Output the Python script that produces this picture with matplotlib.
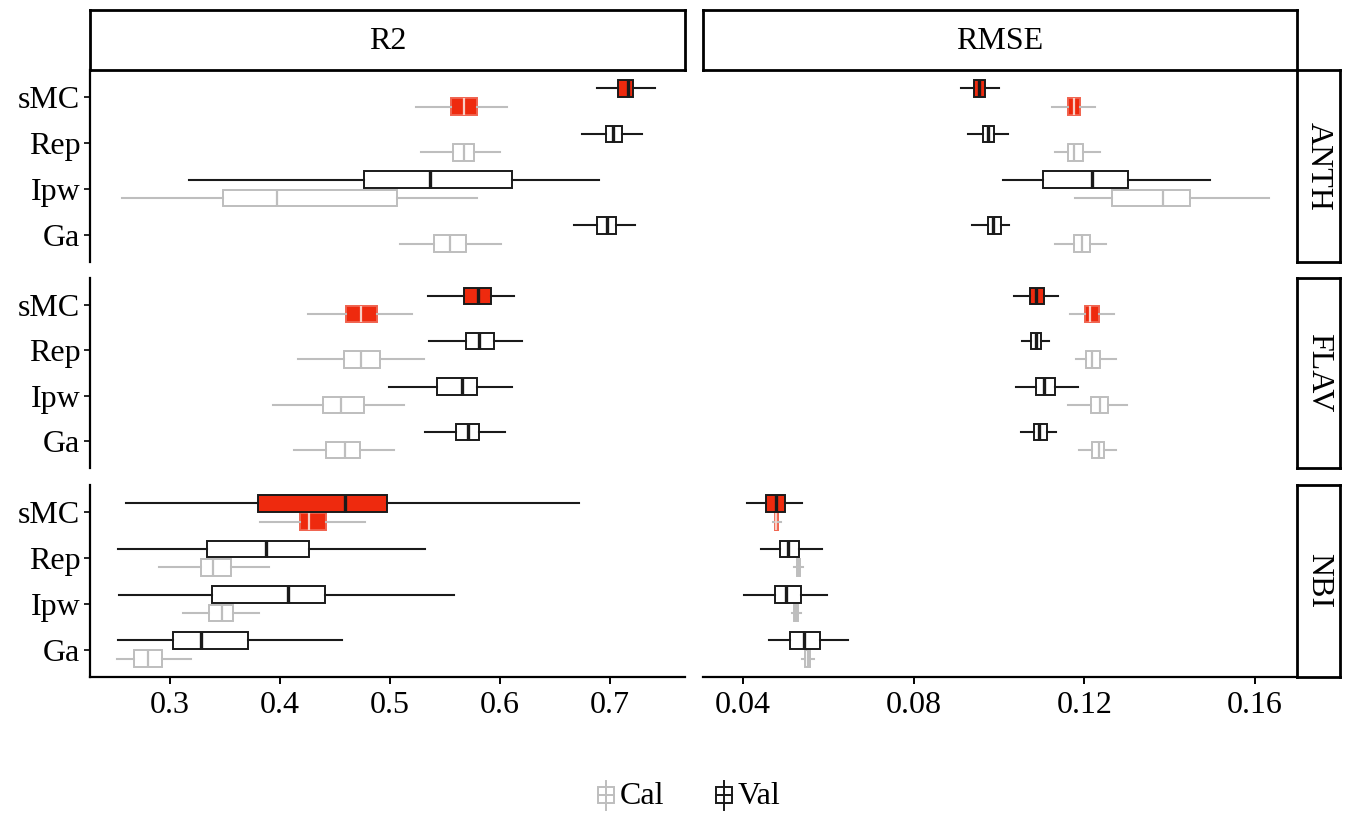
import numpy as np
import matplotlib.pyplot as plt
from matplotlib.patches import Rectangle

plt.rcParams['font.family'] = ['Liberation Serif', 'DejaVu Serif']

methods = ['sMC', 'Rep', 'Ipw', 'Ga']
traits = ['ANTH', 'FLAV', 'NBI']
metrics = ['R2', 'RMSE']

# box stats per method (sMC, Rep, Ipw, Ga): [whislo, q1, median, q3, whishi]
anth_r2_val = [[0.688, 0.707, 0.716, 0.721, 0.741],
               [0.674, 0.696, 0.703, 0.711, 0.729],
               [0.317, 0.476, 0.536, 0.611, 0.690],
               [0.667, 0.688, 0.697, 0.705, 0.723]]
anth_r2_cal = [[0.524, 0.555, 0.567, 0.579, 0.606],
               [0.528, 0.557, 0.567, 0.576, 0.600],
               [0.256, 0.348, 0.397, 0.506, 0.579],
               [0.509, 0.540, 0.554, 0.569, 0.601]]
flav_r2_val = [[0.534, 0.567, 0.580, 0.592, 0.613],
               [0.535, 0.569, 0.581, 0.594, 0.620],
               [0.499, 0.543, 0.565, 0.579, 0.611],
               [0.532, 0.560, 0.571, 0.581, 0.604]]
flav_r2_cal = [[0.425, 0.460, 0.474, 0.488, 0.520],
               [0.416, 0.458, 0.474, 0.491, 0.531],
               [0.394, 0.439, 0.455, 0.476, 0.513],
               [0.413, 0.442, 0.459, 0.473, 0.504]]
nbi_r2_val = [[0.260, 0.380, 0.459, 0.497, 0.672],
              [0.253, 0.334, 0.387, 0.426, 0.532],
              [0.254, 0.338, 0.407, 0.441, 0.558],
              [0.253, 0.303, 0.328, 0.371, 0.456]]
nbi_r2_cal = [[0.382, 0.418, 0.426, 0.442, 0.477],
              [0.290, 0.328, 0.339, 0.355, 0.390],
              [0.312, 0.335, 0.347, 0.357, 0.381],
              [0.252, 0.267, 0.280, 0.293, 0.319]]

anth_rmse_val = [[0.0910, 0.0941, 0.0953, 0.0968, 0.1000],
                 [0.0928, 0.0961, 0.0973, 0.0988, 0.1020],
                 [0.1009, 0.1103, 0.1217, 0.1303, 0.1494],
                 [0.0937, 0.0973, 0.0985, 0.1004, 0.1023]]
anth_rmse_cal = [[0.1124, 0.1161, 0.1175, 0.1190, 0.1224],
                 [0.1130, 0.1161, 0.1175, 0.1197, 0.1236],
                 [0.1177, 0.1264, 0.1385, 0.1448, 0.1633],
                 [0.1130, 0.1175, 0.1193, 0.1212, 0.1251]]
flav_rmse_val = [[0.1034, 0.1073, 0.1087, 0.1106, 0.1139],
                 [0.1054, 0.1075, 0.1086, 0.1097, 0.1118],
                 [0.1040, 0.1087, 0.1106, 0.1130, 0.1185],
                 [0.1051, 0.1082, 0.1094, 0.1112, 0.1133]]
flav_rmse_cal = [[0.1166, 0.1201, 0.1212, 0.1233, 0.1269],
                 [0.1181, 0.1204, 0.1217, 0.1237, 0.1275],
                 [0.1161, 0.1215, 0.1236, 0.1255, 0.1300],
                 [0.1186, 0.1217, 0.1233, 0.1246, 0.1275]]
nbi_rmse_val = [[0.0409, 0.0454, 0.0476, 0.0497, 0.0539],
                [0.0443, 0.0487, 0.0506, 0.0530, 0.0586],
                [0.0403, 0.0474, 0.0501, 0.0535, 0.0597],
                [0.0460, 0.0510, 0.0543, 0.0581, 0.0646]]
nbi_rmse_cal = [[0.0469, 0.0475, 0.0478, 0.0482, 0.0488],
                [0.0520, 0.0526, 0.0530, 0.0534, 0.0541],
                [0.0514, 0.0520, 0.0524, 0.0529, 0.0535],
                [0.0537, 0.0546, 0.0551, 0.0556, 0.0566]]

data = {
    ('R2', 'ANTH'): (anth_r2_val, anth_r2_cal),
    ('R2', 'FLAV'): (flav_r2_val, flav_r2_cal),
    ('R2', 'NBI'): (nbi_r2_val, nbi_r2_cal),
    ('RMSE', 'ANTH'): (anth_rmse_val, anth_rmse_cal),
    ('RMSE', 'FLAV'): (flav_rmse_val, flav_rmse_cal),
    ('RMSE', 'NBI'): (nbi_rmse_val, nbi_rmse_cal),
}

xlims = {'R2': (0.2273, 0.768), 'RMSE': (0.0306, 0.1698)}
xticks = {'R2': [0.3, 0.4, 0.5, 0.6, 0.7], 'RMSE': [0.04, 0.08, 0.12, 0.16]}

red = '#EE2A0E'
cal_col = '#BEBEBE'
val_col = '#1A1A1A'
fs = 23

W, H = 1355, 814
fig = plt.figure(figsize=(W / 100, H / 100), dpi=100)


def rect(x0, y0, x1, y1):
    return [x0 / W, 1 - y1 / H, (x1 - x0) / W, (y1 - y0) / H]


cols = [(90, 685), (703, 1297)]
rows = [(70, 262), (278, 468), (485, 677)]


def stats(vals):
    out = []
    for v in vals:
        out.append(dict(whislo=v[0], q1=v[1], med=v[2], q3=v[3], whishi=v[4]))
    return out


ypos = np.array([4, 3, 2, 1])
off = 0.2
bw = 0.36

for ci, met in enumerate(metrics):
    for ri, tr in enumerate(traits):
        ax = fig.add_axes(rect(cols[ci][0], rows[ri][0], cols[ci][1], rows[ri][1]))
        val, cal = data[(met, tr)]
        for sv, pos, col, mlw in [(cal, ypos - off, cal_col, 1.6), (val, ypos + off, val_col, 2.4)]:
            b = ax.bxp(stats(sv), positions=pos, widths=bw, orientation='horizontal',
                       patch_artist=True, showcaps=False, showfliers=False,
                       boxprops=dict(edgecolor=col, linewidth=1.4, facecolor='white'),
                       whiskerprops=dict(color=col, linewidth=1.5),
                       medianprops=dict(color=col, linewidth=mlw))
            # sMC boxes are filled red
            b['boxes'][0].set_facecolor(red)
            if col == cal_col:
                b['boxes'][0].set_edgecolor('#F0624E')
                b['medians'][0].set_color('#F8CFC6')
        ax.set_xlim(*xlims[met])
        ax.set_ylim(0.4, 4.6)
        for s in ['top', 'right']:
            ax.spines[s].set_visible(False)
        ax.spines['left'].set_visible(ci == 0)
        ax.spines['bottom'].set_visible(ri == 2)
        ax.spines['left'].set_linewidth(1.6)
        ax.spines['bottom'].set_linewidth(1.6)
        ax.set_xticks(xticks[met])
        ax.set_yticks(ypos)
        if ri == 2:
            ax.set_xticklabels([f'{t:g}' for t in xticks[met]], fontsize=fs)
            ax.tick_params(axis='x', length=5, width=1.4, pad=5)
        else:
            ax.tick_params(axis='x', length=0, labelbottom=False)
        if ci == 0:
            ax.set_yticklabels(methods, fontsize=fs)
            ax.tick_params(axis='y', length=4, width=1.2, pad=3)
        else:
            ax.tick_params(axis='y', length=0, labelleft=False)

# facet strips
for ci, met in enumerate(metrics):
    sax = fig.add_axes(rect(cols[ci][0], 10, cols[ci][1], 70))
    sax.set_xticks([])
    sax.set_yticks([])
    for s in sax.spines.values():
        s.set_linewidth(2)
    sax.text(0.5, 0.47, met, ha='center', va='center', fontsize=fs, transform=sax.transAxes)

for ri, tr in enumerate(traits):
    sax = fig.add_axes(rect(1297, rows[ri][0], 1340, rows[ri][1]))
    sax.set_xticks([])
    sax.set_yticks([])
    for s in sax.spines.values():
        s.set_linewidth(2)
    sax.text(0.5, 0.5, tr, ha='center', va='center', fontsize=fs, rotation=-90,
             transform=sax.transAxes)

# legend
lax = fig.add_axes([0, 0, 1, 1], facecolor='none')
lax.set_xlim(0, W)
lax.set_ylim(H, 0)
lax.axis('off')
for cx, col, lab in [(606, cal_col, 'Cal'), (724, val_col, 'Val')]:
    lax.plot([cx, cx], [781, 810], color=col, lw=1.4)
    lax.add_patch(Rectangle((cx - 8, 787), 16, 16, facecolor='white', edgecolor=col, lw=1.4))
    lax.plot([cx - 8, cx + 8], [795, 795], color=col, lw=1.4)
    lax.text(cx + 14, 797, lab, fontsize=fs, va='center', ha='left')

fig.savefig('out.png', dpi=100)
